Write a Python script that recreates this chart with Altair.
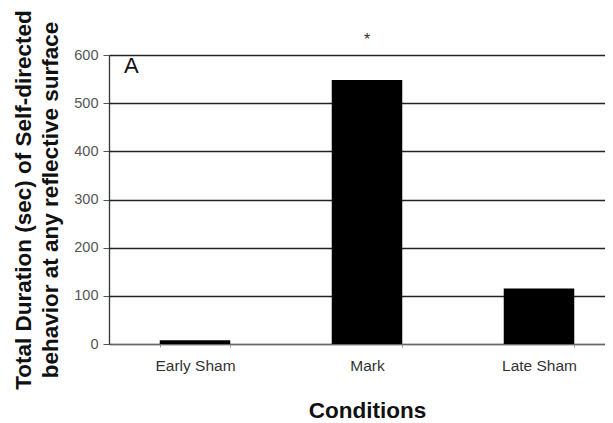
import altair as alt
import pandas as pd

conditions = ["Early Sham", "Mark", "Late Sham"]
durations = [8, 548, 115]
y_ticks = [0, 100, 200, 300, 400, 500, 600]

df = pd.DataFrame({"Condition": conditions, "Duration": durations})

x = alt.X("Condition:N", sort=conditions,
          scale=alt.Scale(range=[0, 516], paddingInner=0.59, paddingOuter=0.295),
          axis=alt.Axis(title="Conditions", labelAngle=0, tickBand="extent",
                        labelFont="Liberation Sans", labelFontSize=15.5, labelColor="#333",
                        labelPadding=11, tickSize=3, tickColor="#999", domainColor="#666",
                        titleFont="Liberation Sans", titleFontSize=22.5, titleFontWeight="bold",
                        titleColor="#111", titlePadding=26, grid=False))
y = alt.Y("Duration:Q",
          scale=alt.Scale(domain=[0, 600], nice=False),
          axis=alt.Axis(values=y_ticks, title=["Total Duration (sec) of Self-directed",
                                                "behavior at any reflective surface"],
                        labelFont="Liberation Sans", labelFontSize=14.5, labelColor="#555",
                        tickSize=6, tickColor="#555", domainColor="#333", domainWidth=1.3,
                        gridColor="#222", gridWidth=1.3, labelPadding=5,
                        titleFont="Liberation Sans", titleFontSize=22.5, titleFontWeight="bold",
                        titleColor="#111", titlePadding=11, titleLineHeight=27))

bars = alt.Chart(df).mark_bar(color="black").encode(x=x, y=y)

star = alt.Chart(pd.DataFrame({"Condition": ["Mark"], "Duration": [548], "t": ["*"]})).mark_text(
    font="Liberation Sans", fontSize=16, dy=-40, color="#333").encode(
    x=alt.X("Condition:N", sort=conditions), y="Duration:Q", text="t:N")

label = alt.Chart(pd.DataFrame({"t": ["A"]})).mark_text(
    font="Liberation Sans", fontSize=22, align="left", baseline="middle", color="#111").encode(
    x=alt.value(15), y=alt.value(11), text="t:N")

chart = (bars + star + label).properties(
    width=496, height=289,
    autosize=alt.AutoSizeParams(type="none"),
    padding={"left": 101, "top": 47, "right": 0, "bottom": 78},
).configure_view(stroke=None).configure(background="white")

chart.save("out.html", embed_options={"renderer": "svg", "actions": False})
